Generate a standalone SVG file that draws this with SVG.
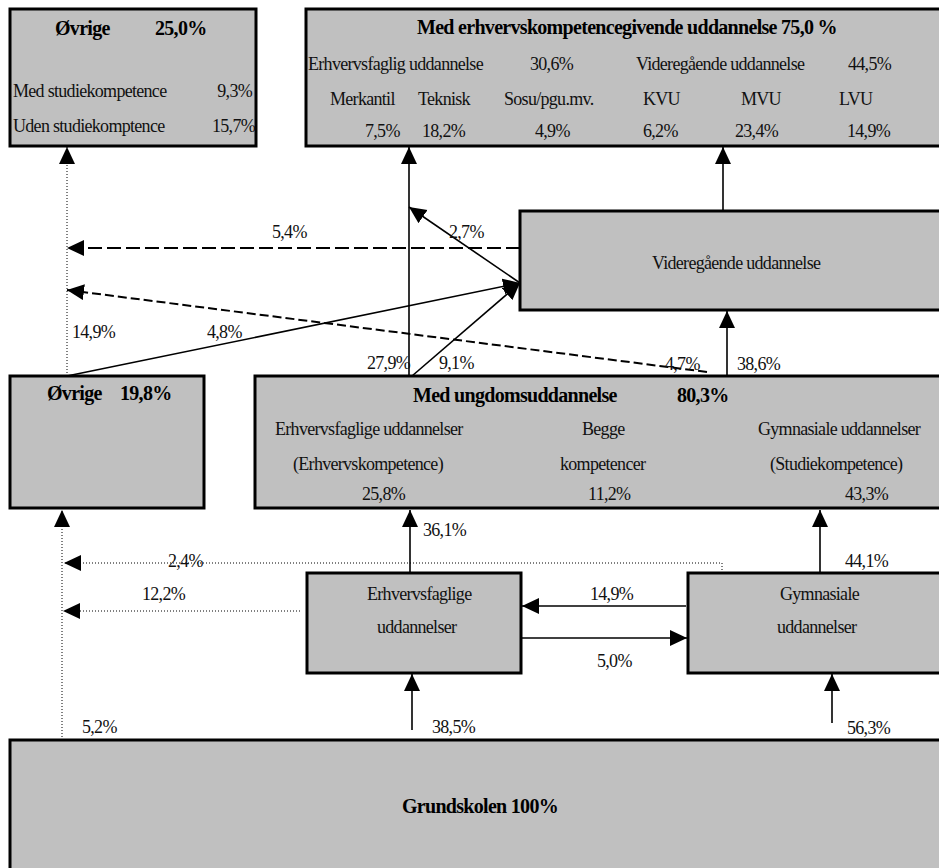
<svg xmlns="http://www.w3.org/2000/svg" width="939" height="868" viewBox="0 0 939 868">
<style>
.box{fill:#c0c0c0;stroke:#000;stroke-width:3}
.t{font-family:"Liberation Serif","Tinos","Times New Roman","DejaVu Serif",serif;font-size:18px;letter-spacing:-0.7px;fill:#111}
.b{font-family:"Liberation Serif","Tinos","Times New Roman","DejaVu Serif",serif;font-size:20px;font-weight:bold;letter-spacing:-0.7px;fill:#000}
.e{text-anchor:end}
.s{fill:none;stroke:#000;stroke-width:1.6}
.d1{fill:none;stroke:#000;stroke-width:2;stroke-dasharray:14,5}
.d2{fill:none;stroke:#000;stroke-width:2;stroke-dasharray:9,4}
.dt{fill:none;stroke:#000;stroke-width:1;stroke-dasharray:1,2}
</style>
<defs>
<marker id="ah" markerUnits="userSpaceOnUse" markerWidth="18" markerHeight="17" refX="17" refY="8" orient="auto">
<path d="M0,0 L17,8 L0,16 z" fill="#000"/>
</marker>
</defs>
<rect width="939" height="868" fill="#fff"/>

<g id="n-ovrige-top">
<rect class="box" x="10" y="9" width="246" height="137"/>
<text class="b" x="55" y="35">Øvrige</text>
<text class="b" x="155" y="35">25,0%</text>
<text class="t" x="13" y="97">Med studiekompetence</text>
<text class="t e" x="252" y="97">9,3%</text>
<text class="t" x="13" y="132">Uden studiekomptence</text>
<text class="t e" x="255" y="132">15,7%</text>
</g>

<g id="n-erhvervskompetence">
<rect class="box" x="306" y="9" width="640" height="137"/>
<text class="b" x="417" y="34">Med erhvervskompetencegivende uddannelse  75,0 %</text>
<text class="t" x="308" y="70">Erhvervsfaglig uddannelse</text>
<text class="t" x="530" y="70">30,6%</text>
<text class="t" x="636" y="70">Videregående uddannelse</text>
<text class="t" x="848" y="70">44,5%</text>
<text class="t" x="330" y="105">Merkantil</text>
<text class="t" x="418" y="105">Teknisk</text>
<text class="t" x="504" y="105">Sosu/pgu.mv.</text>
<text class="t" x="643" y="105">KVU</text>
<text class="t" x="741" y="105">MVU</text>
<text class="t" x="839" y="105">LVU</text>
<text class="t" x="365" y="137">7,5%</text>
<text class="t" x="422" y="137">18,2%</text>
<text class="t" x="535" y="137">4,9%</text>
<text class="t" x="643" y="137">6,2%</text>
<text class="t" x="735" y="137">23,4%</text>
<text class="t" x="847" y="137">14,9%</text>
</g>

<g id="n-videregaaende">
<rect class="box" x="520" y="211" width="426" height="99"/>
<text class="t" x="652" y="269">Videregående uddannelse</text>
</g>

<g id="n-ovrige-mid">
<rect class="box" x="10" y="376" width="194" height="132"/>
<text class="b" x="47" y="400">Øvrige</text>
<text class="b" x="120" y="400">19,8%</text>
</g>

<g id="n-ungdomsuddannelse">
<rect class="box" x="255" y="376" width="691" height="132"/>
<text class="b" x="413" y="402">Med ungdomsuddannelse</text>
<text class="b" x="677" y="402">80,3%</text>
<text class="t" x="275" y="435">Erhvervsfaglige uddannelser</text>
<text class="t" x="293" y="470">(Erhvervskompetence)</text>
<text class="t" x="362" y="500">25,8%</text>
<text class="t" x="582" y="435">Begge</text>
<text class="t" x="560" y="470">kompetencer</text>
<text class="t" x="588" y="500">11,2%</text>
<text class="t" x="758" y="435">Gymnasiale uddannelser</text>
<text class="t" x="770" y="470">(Studiekompetence)</text>
<text class="t" x="845" y="500">43,3%</text>
</g>

<g id="n-erhvervsfaglige">
<rect class="box" x="307" y="573" width="214" height="100"/>
<text class="t" x="367" y="600">Erhvervsfaglige</text>
<text class="t" x="377" y="633">uddannelser</text>
</g>

<g id="n-gymnasiale">
<rect class="box" x="688" y="573" width="258" height="100"/>
<text class="t" x="780" y="600">Gymnasiale</text>
<text class="t" x="777" y="633">uddannelser</text>
</g>

<g id="n-grundskolen">
<rect class="box" x="10" y="740" width="936" height="140"/>
<text class="b" x="480" y="813" text-anchor="middle">Grundskolen 100%</text>
</g>

<g id="connectors">
<path class="dt" d="M67,376 V147" marker-end="url(#ah)"/>
<path class="s" d="M409,376 V147" marker-end="url(#ah)"/>
<path class="s" d="M723,211 V147" marker-end="url(#ah)"/>
<path class="s" d="M727,376 V311" marker-end="url(#ah)"/>
<path class="d1" d="M520,248 H67" marker-end="url(#ah)"/>
<path class="d2" d="M707,372 L67,290" marker-end="url(#ah)"/>
<path class="s" d="M520,283 L409,207" marker-end="url(#ah)"/>
<path class="s" d="M67,376 L520,283" marker-end="url(#ah)"/>
<path class="s" d="M412,376 L520,283" marker-end="url(#ah)"/>
<path class="s" d="M410,573 V510" marker-end="url(#ah)"/>
<path class="s" d="M820,573 V510" marker-end="url(#ah)"/>
<path class="dt" d="M722,573 V563 H64" marker-end="url(#ah)"/>
<path class="dt" d="M300,611 H63" marker-end="url(#ah)"/>
<path class="s" d="M686,606 H522" marker-end="url(#ah)"/>
<path class="s" d="M521,638 H687" marker-end="url(#ah)"/>
<path class="s" d="M412,730 V674" marker-end="url(#ah)"/>
<path class="s" d="M832,723 V674" marker-end="url(#ah)"/>
<path class="dt" d="M62,740 V510" marker-end="url(#ah)"/>
<text class="t" x="272" y="238">5,4%</text>
<text class="t" x="449" y="238">2,7%</text>
<text class="t" x="72" y="338">14,9%</text>
<text class="t" x="207" y="338">4,8%</text>
<text class="t" x="367" y="369">27,9%</text>
<text class="t" x="439" y="369">9,1%</text>
<text class="t" x="665" y="370">4,7%</text>
<text class="t" x="737" y="370">38,6%</text>
<text class="t" x="423" y="536">36,1%</text>
<text class="t" x="845" y="567">44,1%</text>
<text class="t" x="168" y="567">2,4%</text>
<text class="t" x="142" y="600">12,2%</text>
<text class="t" x="590" y="600">14,9%</text>
<text class="t" x="597" y="667">5,0%</text>
<text class="t" x="82" y="733">5,2%</text>
<text class="t" x="432" y="733">38,5%</text>
<text class="t" x="847" y="734">56,3%</text>
</g>
</svg>
